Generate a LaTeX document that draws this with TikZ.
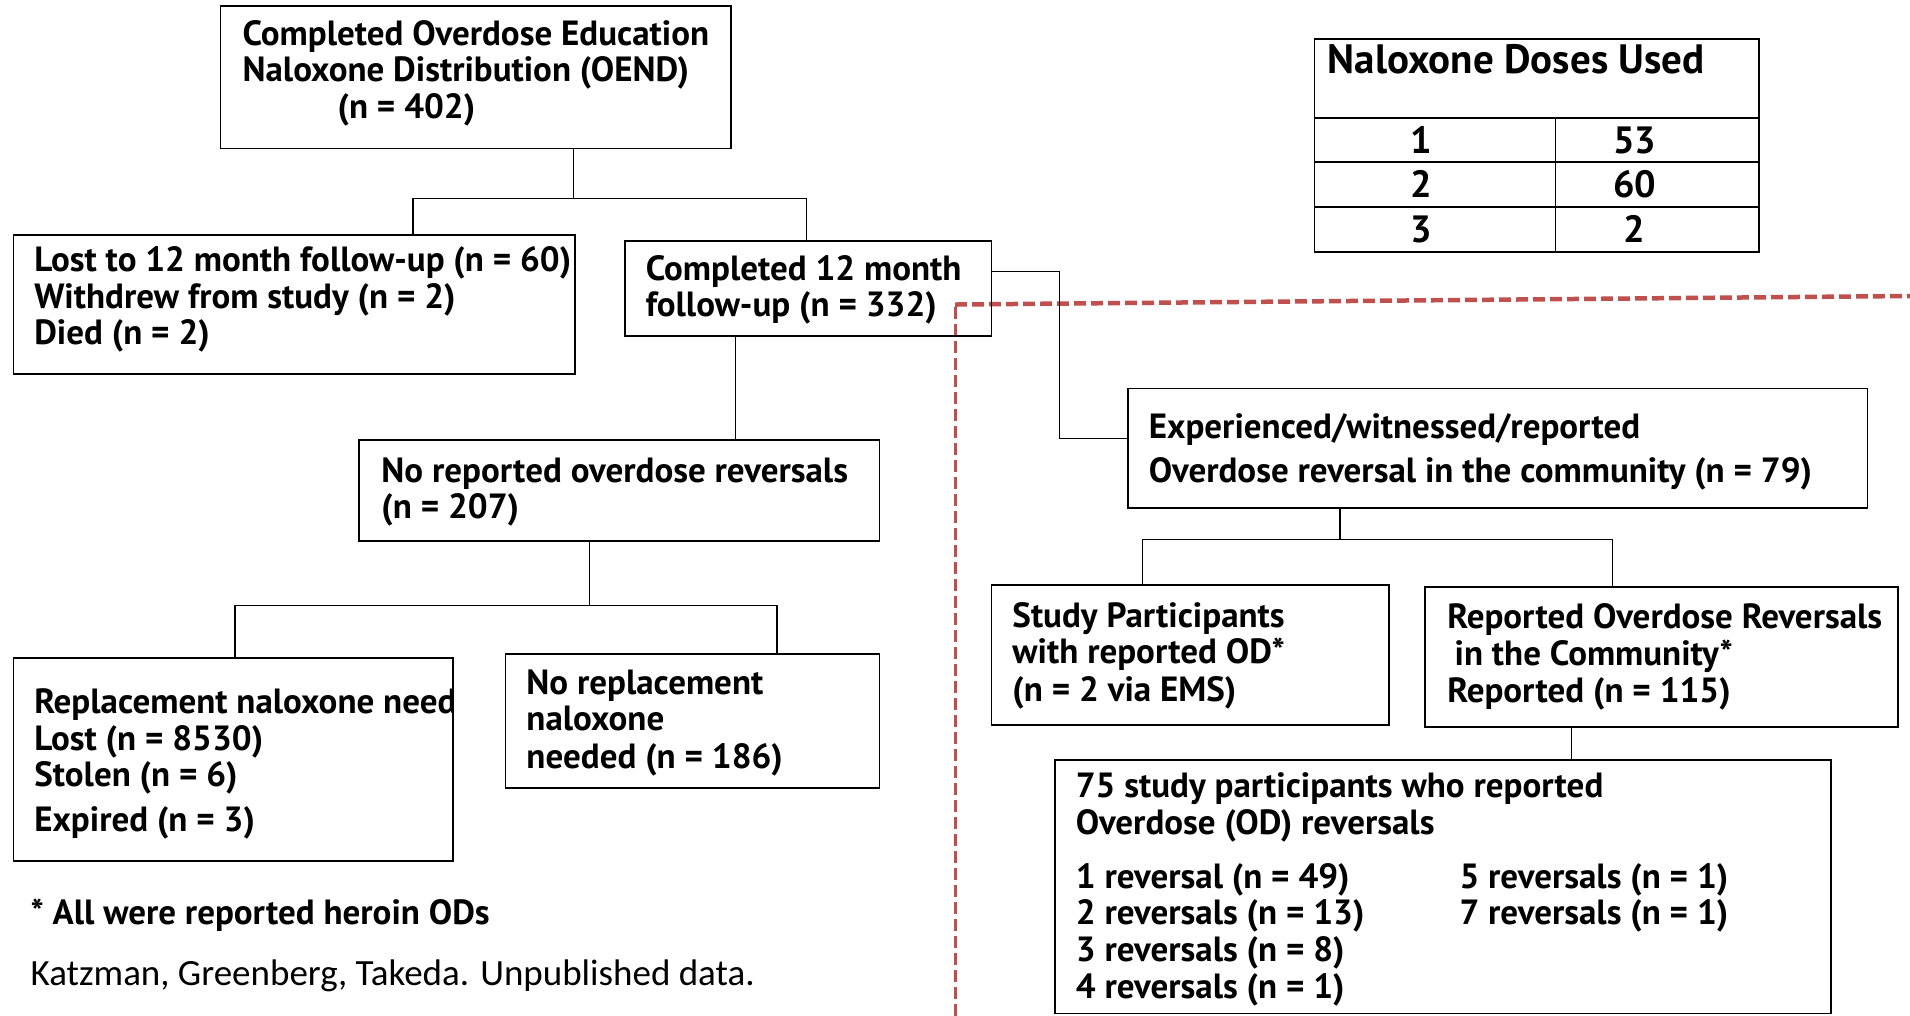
\documentclass[tikz,border=0pt]{standalone}
\usepackage{fontspec}
\setmainfont{PT Sans}
\newfontfamily\citefont{Carlito}
\usetikzlibrary{fit}
\definecolor{dred}{HTML}{C0504D}
\begin{document}
\begin{tikzpicture}[x=1.2181pt,y=-1.2181pt,
 box/.style={draw=black,line width=1.7pt,inner sep=0pt},
 conn/.style={draw=black,line width=1.4pt},
 lbl/.style={anchor=base west,inner sep=0pt,font=\fontsize{35}{40}\selectfont\bfseries},
 big/.style={anchor=base,inner sep=0pt,font=\fontsize{38}{44}\selectfont\bfseries},
 ]
\useasboundingbox (0,0) rectangle (1568,834);
\fill[white] (0,0) rectangle (1568,834);

% red dashed region
\coordinate (rd0) at (784,834);
\coordinate (rd1) at (784,250);
\coordinate (rd2) at (1568,243);
\draw[draw=dred,line width=3pt,dash pattern=on 12pt off 5pt] (rd0) -- (rd1);
\draw[draw=dred,line width=4.5pt,dash pattern=on 12pt off 5pt] (rd1) -- (rd2);

% boxes
\node[box,fit={(181,5) (600,122)}] (top) {};
\node[box,fit={(11,193) (472,307)}] (lost) {};
\node[box,fit={(513,198) (814,276)}] (comp) {};
\node[box,fit={(295,361) (722,444)}] (norev) {};
\node[box,fit={(11,540) (372,707)}] (repl) {};
\node[box,fit={(415,537) (722,647)}] (norepl) {};
\node[box,fit={(926,319) (1533,417)}] (exp) {};
\node[box,fit={(814,480) (1140,595)}] (study) {};
\node[box,fit={(1170,482) (1558,597)}] (repod) {};
\node[box,fit={(866,624) (1503,832)}] (sevfive) {};

% table
\node[box,fit={(1079,32) (1444,207)}] (tab) {};
\draw[box] (1079,97) -- (1444,97);
\draw[box] (1079,133) -- (1444,133);
\draw[box] (1079,170) -- (1444,170);
\draw[box] (1277,97) -- (1277,207);
\node[lbl,font=\fontsize{41}{46}\selectfont\bfseries] (tabt) at (1090,60) {Naloxone Doses Used};
\node[big] (ta1) at (1167,126) {1};
\node[big] (tb1) at (1342,126) {53};
\node[big] (ta2) at (1167,162) {2};
\node[big] (tb2) at (1342,162) {60};
\node[big] (ta3) at (1167,199) {3};
\node[big] (tb3) at (1342,199) {2};

% connectors
\coordinate (j1) at (471,163);
\coordinate (j1l) at (339,163);
\coordinate (j1r) at (662,163);
\draw[conn] (top.south -| j1) -- (j1);
\draw[conn] (lost.north -| j1l) |- (j1r) -- (comp.north -| j1r);

\coordinate (j2) at (870,223);
\draw[conn] (comp.east |- j2) -- (j2) |- (exp.west |- 0,360);
\draw[conn] (comp.south -| 604,0) -- (norev.north -| 604,0);

\coordinate (j3) at (484,497);
\coordinate (j3l) at (193,497);
\coordinate (j3r) at (638,497);
\draw[conn] (norev.south -| j3) -- (j3);
\draw[conn] (repl.north -| j3l) |- (j3r) -- (norepl.north -| j3r);

\coordinate (j4) at (1100,443);
\coordinate (j4l) at (938,443);
\coordinate (j4r) at (1324,443);
\draw[conn] (exp.south -| j4) -- (j4);
\draw[conn] (study.north -| j4l) |- (j4r) -- (repod.north -| j4r);
\draw[conn] (repod.south -| 1290,0) -- (sevfive.north -| 1290,0);

% texts
\node[lbl] (t1a) at (199,37) {Completed Overdose Education};
\node[lbl] (t1b) at (199,67) {Naloxone Distribution (OEND)};
\node[lbl] (t1c) at (277,97) {(n = 402)};

\node[lbl] (t2a) at (28,223) {Lost to 12 month follow-up (n = 60)};
\node[lbl] (t2b) at (28,253) {Withdrew from study (n = 2)};
\node[lbl] (t2c) at (28,283) {Died (n = 2)};

\node[lbl] (t3a) at (530,230) {Completed 12 month};
\node[lbl] (t3b) at (530,260) {follow-up (n = 332)};

\node[lbl] (t4a) at (313,396) {No reported overdose reversals};
\node[lbl] (t4b) at (313,426) {(n = 207)};

\begin{scope}
\clip (11,540) rectangle (372,707);
\node[lbl] (t5a) at (28,586) {Replacement naloxone need};
\end{scope}
\node[lbl] (t5b) at (28,616) {Lost (n = 8530)};
\node[lbl] (t5c) at (28,646) {Stolen (n = 6)};
\node[lbl] (t5d) at (28,683) {Expired (n = 3)};

\node[lbl] (t6a) at (432,570) {No replacement};
\node[lbl] (t6b) at (432,600) {naloxone};
\node[lbl] (t6c) at (432,631) {needed (n = 186)};

\node[lbl] (fn) at (25,759) {* All were reported heroin ODs};
\node[lbl,font=\fontsize{37}{42}\selectfont\citefont] (cite) at (25,809) {Katzman, Greenberg, Takeda. Unpublished data.};

\node[lbl] (t7a) at (943,360) {Experienced/witnessed/reported};
\node[lbl] (t7b) at (943,396) {Overdose reversal in the community (n = 79)};

\node[lbl] (t8a) at (831,515) {Study Participants};
\node[lbl] (t8b) at (831,545) {with reported OD*};
\node[lbl] (t8c) at (831,576) {(n = 2 via EMS)};

\node[lbl] (t9a) at (1188,516) {Reported Overdose Reversals};
\node[lbl] (t9b) at (1194,546) {in the Community*};
\node[lbl] (t9c) at (1188,577) {Reported (n = 115)};

\node[lbl] (t10a) at (883,655) {75 study participants who reported};
\node[lbl] (t10b) at (883,685) {Overdose (OD) reversals};
\node[lbl] (t10c) at (883,729) {1 reversal (n = 49)};
\node[lbl] (t10d) at (883,759) {2 reversals (n = 13)};
\node[lbl] (t10e) at (883,789) {3 reversals (n = 8)};
\node[lbl] (t10f) at (883,820) {4 reversals (n = 1)};
\node[lbl] (t10g) at (1198,729) {5 reversals (n = 1)};
\node[lbl] (t10h) at (1198,759) {7 reversals (n = 1)};
\end{tikzpicture}
\end{document}
